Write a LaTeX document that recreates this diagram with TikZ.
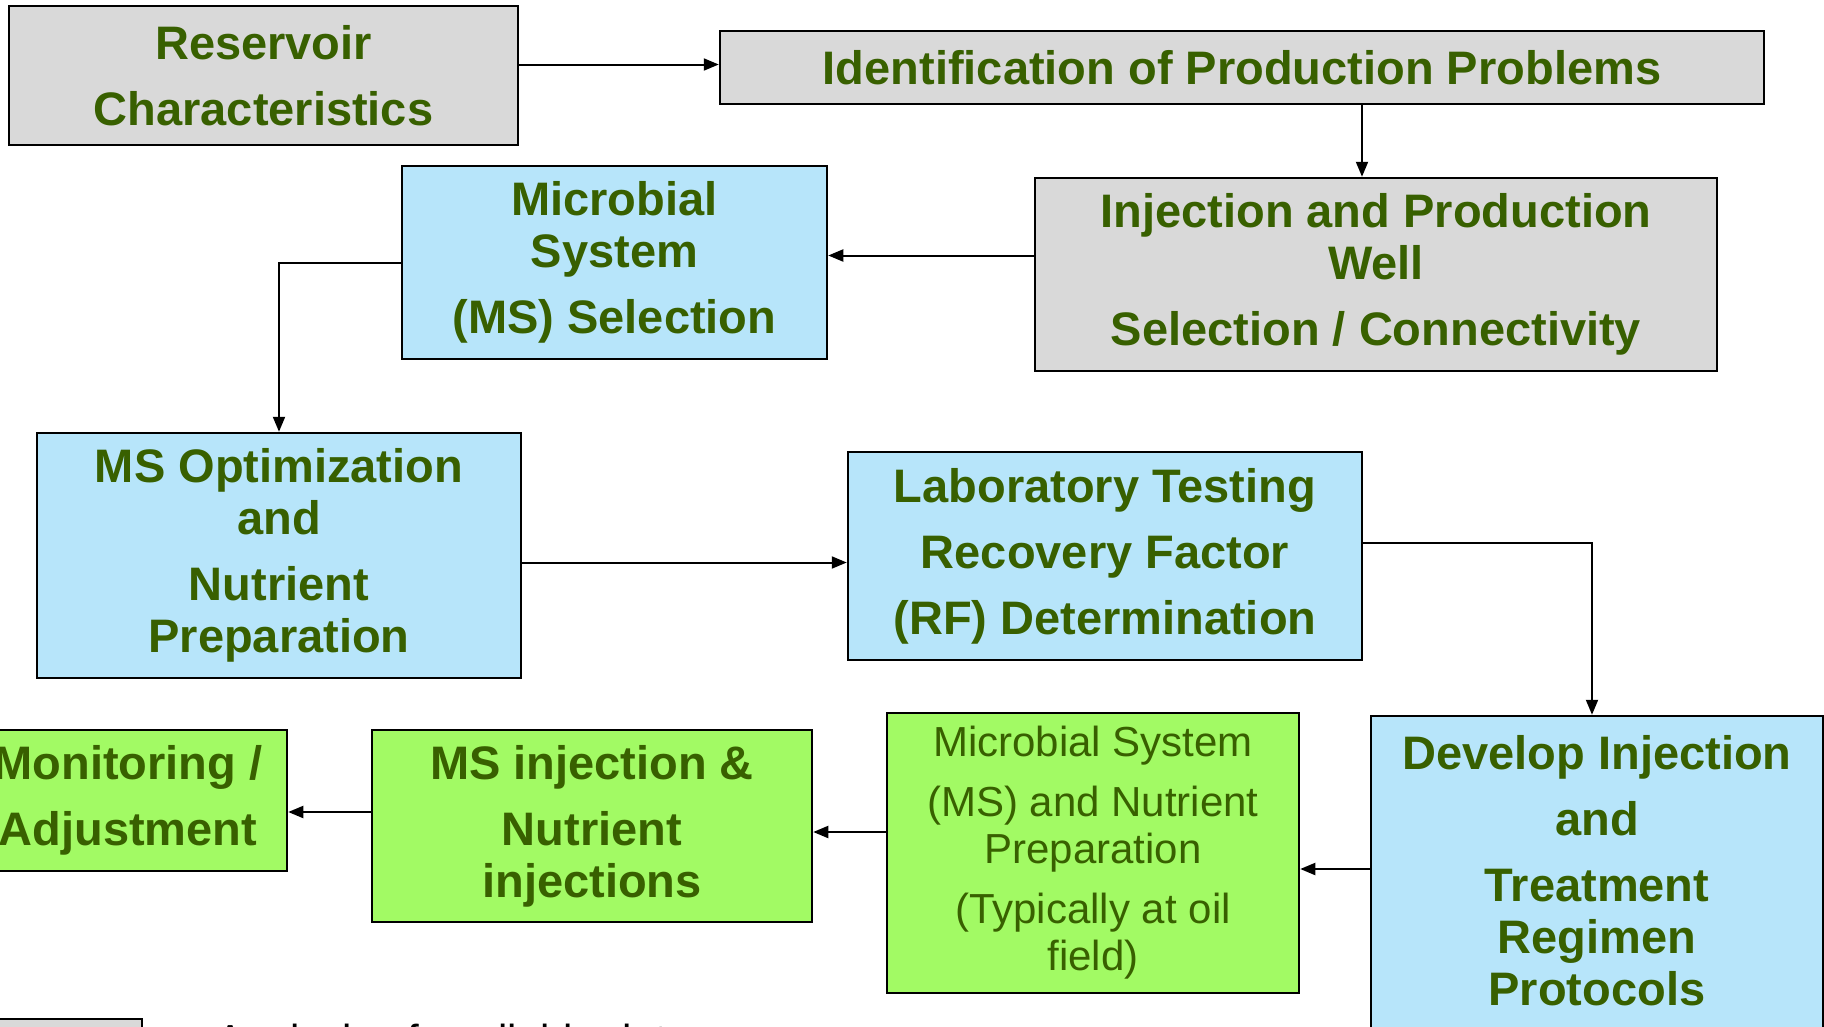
\documentclass[tikz,border=0pt]{standalone}
\usepackage{fontspec}
\setmainfont{Liberation Sans}
\usepackage{xcolor}
\usetikzlibrary{arrows.meta}
\definecolor{boxgray}{RGB}{217,217,217}
\definecolor{boxblue}{RGB}{183,229,250}
\definecolor{boxgreen}{RGB}{162,250,100}
\definecolor{txtgreen}{RGB}{56,96,0}

\begin{document}
\begin{tikzpicture}[line cap=round,>={Triangle[length=15pt,width=12pt]},x=1pt,y=-1pt,
  stepbox/.style={draw=black,line width=2.5pt,inner sep=0pt,align=center,text=txtgreen,
    font=\bfseries\fontsize{47}{52}\selectfont},
  graybox/.style={stepbox,fill=boxgray},
  bluebox/.style={stepbox,fill=boxblue},
  greenbox/.style={stepbox,fill=boxgreen},
  link/.style={->,line width=2pt}]
\useasboundingbox (0,0) rectangle (1824,1026);
\clip (0,0) rectangle (1824,1026);
% top row
\node[graybox,minimum width=509pt,minimum height=139pt] (res) at (263.5,75.5) {Reservoir\\[14pt]Characteristics};
\node[graybox,minimum width=1044pt,minimum height=73pt] (ident) at (1242,67.5) {Identification of Production Problems};
\node[graybox,minimum width=682pt,minimum height=193pt] (inj) at (1376,274.5) {Injection and Production\\Well\\[14pt]Selection / Connectivity};
\node[bluebox,minimum width=425pt,minimum height=193pt] (msel) at (614.5,262.5) {Microbial\\System\\[14pt](MS) Selection};
% middle row
\node[bluebox,minimum width=484pt,minimum height=245pt] (mopt) at (279,555.5) {MS Optimization\\and\\[14pt]Nutrient\\Preparation};
\node[bluebox,minimum width=514pt,minimum height=208pt] (lab) at (1105,556) {Laboratory Testing\\[14pt]Recovery Factor\\[14pt](RF) Determination};
% bottom row
\node[bluebox,minimum width=452pt,minimum height=340pt] (dev) at (1597,886) {Develop Injection\\[14pt]and\\[14pt]Treatment\\Regimen\\Protocols\\[-21pt]\mbox{}};
\node[greenbox,minimum width=412pt,minimum height=280pt,font=\fontsize{42}{47}\selectfont] (mprep) at (1093,853) {Microbial System\\[13pt](MS) and Nutrient\\Preparation\\[13pt](Typically at oil\\field)};
\node[greenbox,minimum width=440pt,minimum height=192pt] (minj) at (592,826) {MS injection \&\\[14pt]Nutrient\\injections};
\node[greenbox,minimum width=318pt,minimum height=141pt] (mon) at (128,800.5) {Monitoring /\\[14pt]Adjustment};
% legend
\node[graybox,minimum width=148pt,minimum height=81pt] (key) at (68,1059.5) {};
\node[anchor=base west,inner sep=0pt,font=\fontsize{42}{47}\selectfont] (keytext) at (216,1054) {Analysis of available data};
% links
\draw[link] ([yshift=11pt]res.east) -- ([yshift=11pt]res.east -| ident.west);
\draw[link] ([xshift=-14pt]inj.north |- ident.south) -- ([xshift=-14pt]inj.north);
\draw[link] ([yshift=19pt]inj.west) -- ([yshift=19pt]inj.west -| msel.east);
\draw[link] (msel.west) -| (mopt.north);
\draw[link] ([yshift=-7pt]mopt.east) -- ([yshift=-7pt]mopt.east -| lab.west);
\draw[link] ([yshift=13pt]lab.east) -| ([xshift=-5pt]dev.north);
\draw[link] ([yshift=17pt]dev.west) -- ([yshift=17pt]dev.west -| mprep.east);
\draw[link] ([yshift=21pt]mprep.west) -- ([yshift=21pt]mprep.west -| minj.east);
\draw[link] ([yshift=14pt]minj.west) -- ([yshift=14pt]minj.west -| mon.east);
\end{tikzpicture}
\end{document}
